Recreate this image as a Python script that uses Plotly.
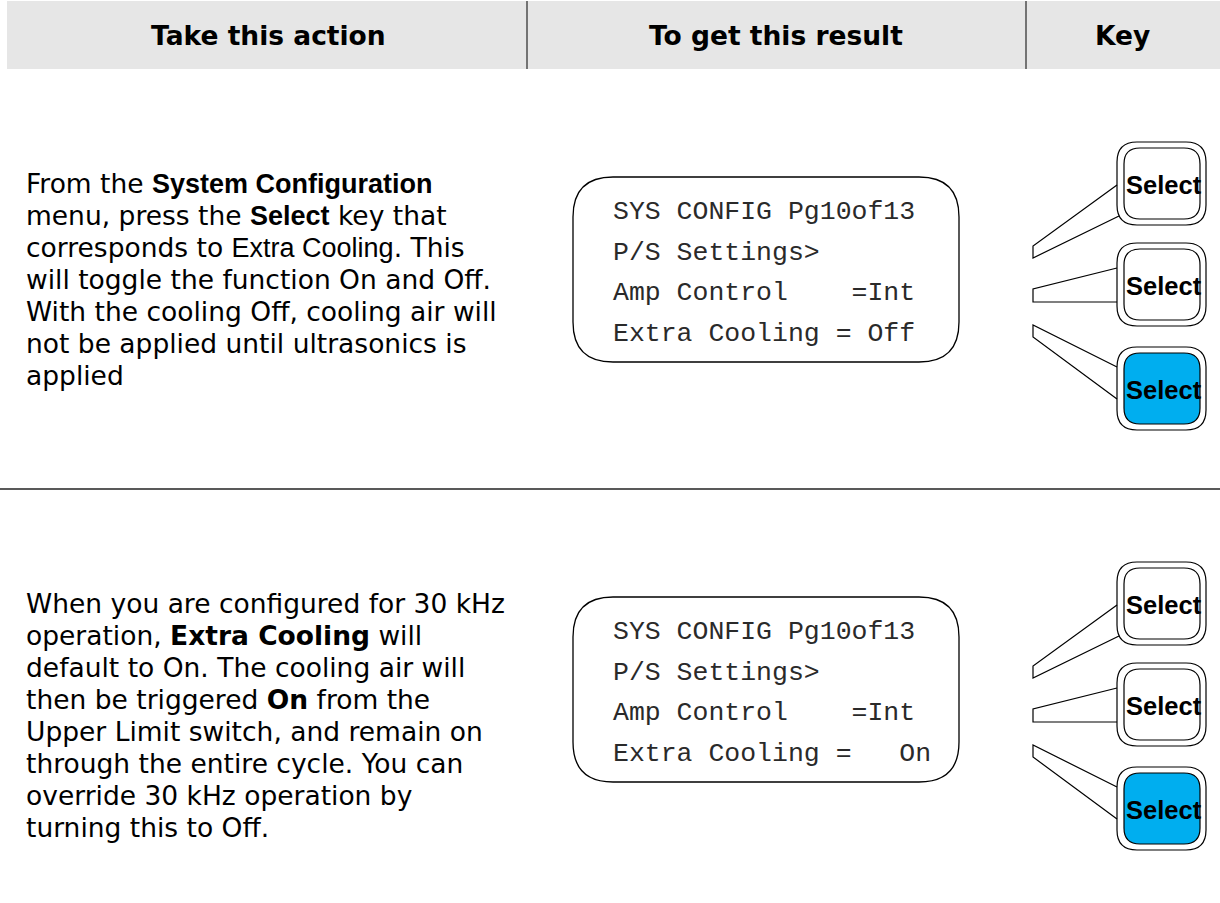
import plotly.graph_objects as go

# ---- content ----
header_labels = ["Take this action", "To get this result", "Key"]

SANS = "DejaVu Sans, Verdana, sans-serif"


def arial(t, bold=False):
    inner = f"<b>{t}</b>" if bold else t
    return f"<span style=\"font-family:Liberation Sans, Arial;font-size:27px\">{inner}</span>"


action_1_lines = [
    "From the " + arial("System Configuration", True),
    "menu, press the " + arial("Select", True) + " key that",
    "corresponds to " + arial("Extra Cooling") + ". This",
    "will toggle the function On and Off.",
    "With the cooling Off, cooling air will",
    "not be applied until ultrasonics is",
    "applied",
]
action_2_lines = [
    "When you are configured for 30 kHz",
    "operation, <b>Extra Cooling</b> will",
    "default to On. The cooling air will",
    "then be triggered <b>On</b> from the",
    "Upper Limit switch, and remain on",
    "through the entire cycle. You can",
    "override 30 kHz operation by",
    "turning this to Off.",
]
screen_1_lines = ["SYS CONFIG Pg10of13", "P/S Settings>", "Amp Control    =Int", "Extra Cooling = Off"]
screen_2_lines = ["SYS CONFIG Pg10of13", "P/S Settings>", "Amp Control    =Int", "Extra Cooling =   On"]
key_labels = ["Select", "Select", "Select"]
highlighted_key = 2

rows = [
    {"action": action_1_lines, "screen": screen_1_lines},
    {"action": action_2_lines, "screen": screen_2_lines},
]

W, H = 1220, 903
fig = go.Figure()
shapes = []
annotations = []


def rrect(x0, y0, x1, y1, r):
    return (f"M{x0+r},{y0} L{x1-r},{y0} Q{x1},{y0} {x1},{y0+r} "
            f"L{x1},{y1-r} Q{x1},{y1} {x1-r},{y1} L{x0+r},{y1} "
            f"Q{x0},{y1} {x0},{y1-r} L{x0},{y0+r} Q{x0},{y0} {x0+r},{y0} Z")


# header band
shapes.append(dict(type="rect", x0=7, x1=1220, y0=1, y1=69, fillcolor="#e6e6e6",
                   line=dict(width=0), layer="below"))
for xd in (527, 1026):
    shapes.append(dict(type="line", x0=xd, x1=xd, y0=1, y1=69, line=dict(color="#000", width=1)))
for lbl, xc in zip(header_labels, (268, 776, 1122)):
    annotations.append(dict(x=xc, y=35, text=f"<b>{lbl}</b>", showarrow=False, xanchor="center",
                            yanchor="middle", font=dict(family=SANS, size=26.5, color="#000")))

# row separator
shapes.append(dict(type="line", x0=0, x1=1220, y0=489, y1=489, line=dict(color="#222", width=1.3)))

row_offset = 420
for ri, row in enumerate(rows):
    dy = ri * row_offset
    # action text
    for li, t in enumerate(row["action"]):
        annotations.append(dict(x=24, y=183 + li * 32.1 + dy, text=t, showarrow=False, xanchor="left",
                                yanchor="middle", font=dict(family=SANS, size=26.5, color="#000")))
    # LCD screen
    shapes.append(dict(type="path", path=rrect(573, 177 + dy, 959, 362 + dy, 40),
                       line=dict(color="#000", width=1.3), fillcolor="rgba(0,0,0,0)"))
    for li, t in enumerate(row["screen"]):
        annotations.append(dict(x=611, y=212 + li * 40.5 + dy, text=t.replace(" ", "\u00a0"), showarrow=False,
                                xanchor="left", yanchor="middle",
                                font=dict(family="Liberation Mono, Courier New, monospace", size=26.5,
                                          color="#2a2a2a")))
    # keys
    key_tops = [142, 243, 347]
    for ki, (lbl, top) in enumerate(zip(key_labels, key_tops)):
        y0, y1 = top + dy, top + 83 + dy
        shapes.append(dict(type="path", path=rrect(1117, y0, 1206, y1, 20),
                           line=dict(color="#000", width=1.2), fillcolor="#fff"))
        fill = "#00aeef" if ki == highlighted_key else "#fff"
        shapes.append(dict(type="path", path=rrect(1124, y0 + 6, 1200, y1 - 6, 16),
                           line=dict(color="#000", width=1.2), fillcolor=fill))
        annotations.append(dict(x=1164, y=(y0 + y1) / 2 + 1, text=f"<b>{lbl}</b>", showarrow=False,
                                xanchor="center", yanchor="middle",
                                font=dict(family="Liberation Sans, Arial, sans-serif",
                                          size=25.5, color="#000")))
    # callout levers
    levers = [
        ((1117, 185), (1033, 246), (1033, 258), (1119, 216)),
        ((1117, 268), (1033, 289), (1033, 302), (1117, 302)),
        ((1117, 367), (1033, 325), (1033, 337), (1117, 399)),
    ]
    for a, b, c, d in levers:
        p = (f"M{a[0]},{a[1]+dy} L{b[0]},{b[1]+dy} L{c[0]},{c[1]+dy} L{d[0]},{d[1]+dy}")
        shapes.append(dict(type="path", path=p, line=dict(color="#000", width=1.2)))

fig.update_layout(
    width=W, height=H, autosize=False,
    margin=dict(l=0, r=0, t=0, b=0),
    paper_bgcolor="#fff", plot_bgcolor="#fff",
    xaxis=dict(range=[0, W], visible=False, fixedrange=True),
    yaxis=dict(range=[H, 0], visible=False, fixedrange=True),
    shapes=shapes, annotations=annotations, showlegend=False,
)
fig.write_html("out.html", config={"displayModeBar": False},
               post_script="document.body.style.margin='0';")
